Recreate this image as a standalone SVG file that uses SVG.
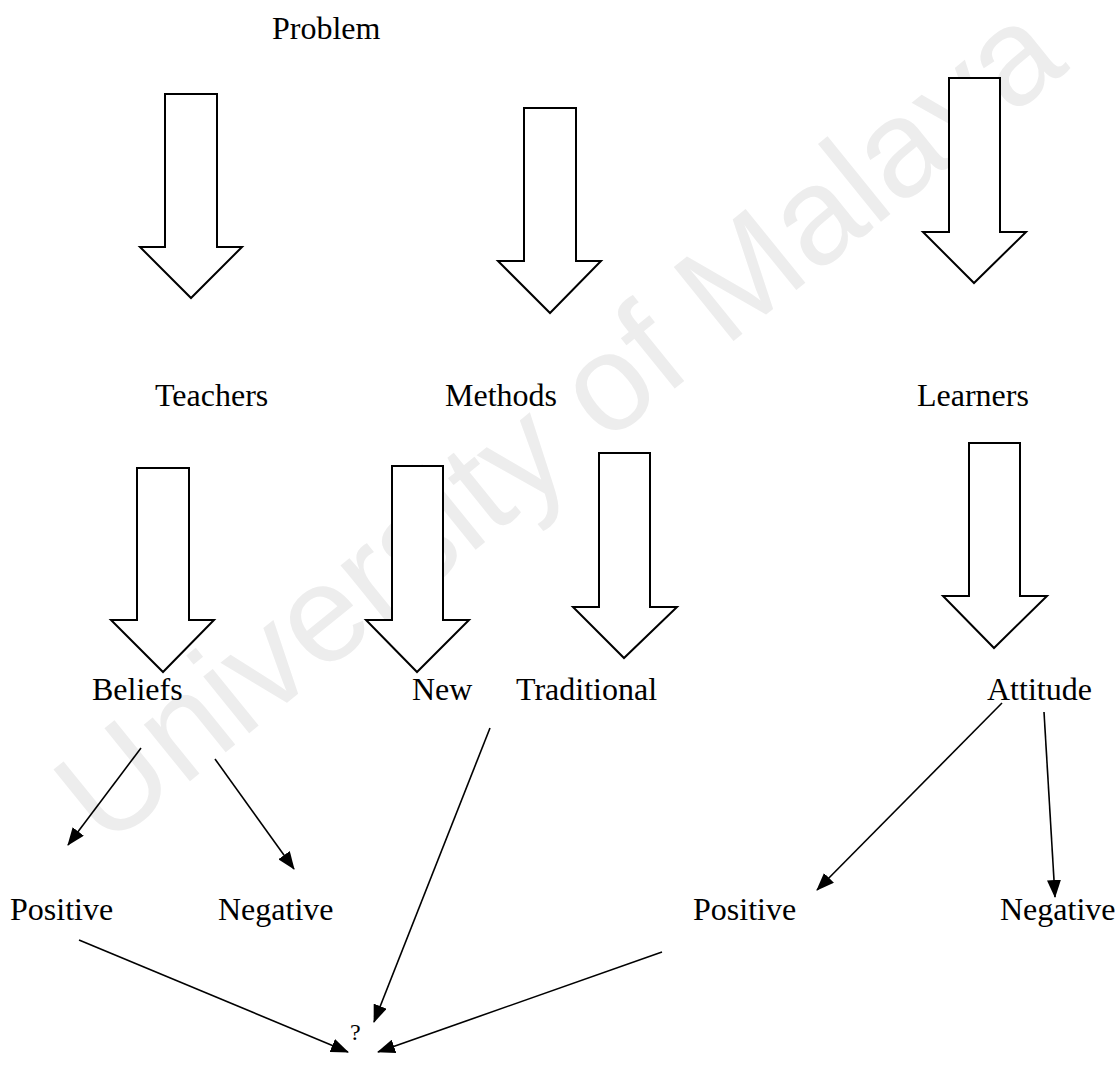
<svg xmlns="http://www.w3.org/2000/svg" width="1117" height="1075" viewBox="0 0 1117 1075">
  <style>
    .lbl { font-family: "Liberation Serif", "Times New Roman", serif; font-size: 32px; fill: #000; }
    .q { font-family: "Liberation Serif", "Times New Roman", serif; font-size: 24px; fill: #000; }
    .block { fill: #fff; stroke: #000; stroke-width: 2; stroke-linejoin: miter; }
    .link { fill: none; stroke: #000; stroke-width: 1.6; marker-end: url(#head); }
    .mark { font-family: "Liberation Sans", Arial, sans-serif; font-size: 138px; fill: #ededed; }
  </style>
  <defs>
    <marker id="head" markerUnits="userSpaceOnUse" markerWidth="18" markerHeight="14" refX="17" refY="7" orient="auto">
      <path d="M0,0 L18,7 L0,14 Z" fill="#000"/>
    </marker>
  </defs>

  <rect width="1117" height="1075" fill="#fff"/>

  <!-- background watermark -->
  <text class="mark" transform="translate(105,850) rotate(-39)">University of Malaya</text>

  <!-- block arrows -->
  <g id="arrow-problem-teachers"><path class="block" d="M165,94 H217 V247 H242 L191,298 L140,247 H165 Z"/></g>
  <g id="arrow-problem-methods"><path class="block" d="M524,108 H576 V261 H601 L550,313 L498,261 H524 Z"/></g>
  <g id="arrow-problem-learners"><path class="block" d="M949,78 H1000 V232 H1026 L974,283 L923,232 H949 Z"/></g>
  <g id="arrow-teachers-beliefs"><path class="block" d="M137,468 H189 V620 H214 L163,672 L111,620 H137 Z"/></g>
  <g id="arrow-methods-new"><path class="block" d="M392,466 H443 V620 H469 L417,672 L366,620 H392 Z"/></g>
  <g id="arrow-methods-traditional"><path class="block" d="M599,453 H650 V607 H677 L624,658 L573,607 H599 Z"/></g>
  <g id="arrow-learners-attitude"><path class="block" d="M969,443 H1020 V596 H1047 L994,648 L943,596 H969 Z"/></g>

  <!-- nodes -->
  <g id="problem"><text class="lbl" x="272" y="39">Problem</text></g>
  <g id="teachers"><text class="lbl" x="155" y="406">Teachers</text></g>
  <g id="methods"><text class="lbl" x="445" y="406">Methods</text></g>
  <g id="learners"><text class="lbl" x="917" y="406">Learners</text></g>
  <g id="beliefs"><text class="lbl" x="92" y="700">Beliefs</text></g>
  <g id="new"><text class="lbl" x="412" y="700">New</text></g>
  <g id="traditional"><text class="lbl" x="516" y="700">Traditional</text></g>
  <g id="attitude"><text class="lbl" x="987" y="700">Attitude</text></g>
  <g id="positive-teachers"><text class="lbl" x="10" y="920">Positive</text></g>
  <g id="negative-teachers"><text class="lbl" x="218" y="920">Negative</text></g>
  <g id="positive-learners"><text class="lbl" x="693" y="920">Positive</text></g>
  <g id="negative-learners"><text class="lbl" x="1000" y="920">Negative</text></g>
  <g id="outcome"><text class="q" x="350" y="1040">?</text></g>

  <!-- connectors -->
  <g id="connectors">
    <line class="link" x1="141" y1="748" x2="68" y2="845"/>
    <line class="link" x1="215" y1="759" x2="294" y2="869"/>
    <line class="link" x1="1002" y1="703" x2="817" y2="890"/>
    <line class="link" x1="1044" y1="712" x2="1055" y2="897"/>
    <line class="link" x1="490" y1="728" x2="374" y2="1022"/>
    <line class="link" x1="79" y1="940" x2="348" y2="1052"/>
    <line class="link" x1="662" y1="952" x2="378" y2="1052"/>
  </g>
</svg>
